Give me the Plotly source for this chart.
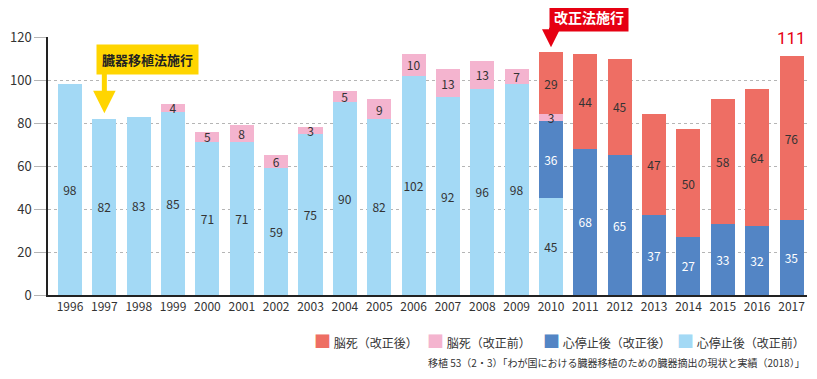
import plotly.graph_objects as go

years = [str(y) for y in range(1996, 2018)]

# 心停止後（改正前） light blue
cardiac_before = [98, 82, 83, 85, 71, 71, 59, 75, 90, 82, 102, 92, 96, 98, 45,
                  None, None, None, None, None, None, None]
# 心停止後（改正後） dark blue
cardiac_after = [None] * 14 + [36, 68, 65, 37, 27, 33, 32, 35]
# 脳死（改正前） pink
brain_before = [None, None, None, 4, 5, 8, 6, 3, 5, 9, 10, 13, 13, 7, 3,
                None, None, None, None, None, None, None]
# 脳死（改正後） red
brain_after = [None] * 14 + [29, 44, 45, 47, 50, 58, 64, 76]

y_ticks = [0, 20, 40, 60, 80, 100, 120]

FONT = "Noto Sans CJK JP"

series = [
    ("心停止後（改正前）", cardiac_before, "#A3D9F5", "#333333"),
    ("心停止後（改正後）", cardiac_after, "#5385C5", "#ffffff"),
    ("脳死（改正前）", brain_before, "#F4B4CF", "#333333"),
    ("脳死（改正後）", brain_after, "#EE6E64", "#333333"),
]

fig = go.Figure()
for name, vals, color, tcolor in series:
    fig.add_trace(go.Bar(
        x=years, y=vals, name=name,
        marker=dict(color=color, line=dict(width=0)),
        width=0.7,
        text=[("" if v is None else str(v)) for v in vals],
        textposition="inside", insidetextanchor="middle", textangle=0,
        textfont=dict(size=12, color=tcolor, family=FONT),
        constraintext="none", cliponaxis=False,
        hoverinfo="skip", showlegend=False,
    ))

# legend (drawn as text, order as in reference)
legend_x = [0.348, 0.497, 0.650, 0.826]
for (name, vals, color, tcolor), lx in zip(list(reversed(series)), legend_x):
    fig.add_annotation(xref="paper", yref="paper", x=lx, y=-0.178, xanchor="left", yanchor="middle",
                       showarrow=False,
                       text=f'<span style="color:{color};font-size:17px">■</span> {name}',
                       font=dict(size=12, color="#333333", family=FONT))

# total label for 2017
idx_last = len(years) - 1
total_2017 = sum(v for v in (cardiac_after[-1], brain_after[-1]) if v)
fig.add_annotation(x=idx_last, y=total_2017, text=str(total_2017),
                   showarrow=False, yanchor="bottom", yshift=6,
                   font=dict(size=17, color="#E60012", family="Roboto"))

# 臓器移植法施行 box + arrow
fig.add_annotation(x=2.26, y=109.5, text="<b>臓器移植法施行</b>", showarrow=False,
                   bgcolor="#FFD500", borderpad=5, xanchor="center", yanchor="middle",
                   font=dict(size=13, color="#222222", family=FONT))
fig.add_annotation(x=1, y=84.5, text="", showarrow=True, axref="pixel", ayref="pixel",
                   ax=0, ay=-42, arrowhead=2, arrowsize=0.9, arrowwidth=5, arrowcolor="#FFD500")

# 改正法施行 box + arrow
fig.add_annotation(x=15.1, xref="x", yref="paper", y=1.0756, text="<b>改正法施行</b>", showarrow=False,
                   bgcolor="#E60012", borderpad=4, xanchor="center", yanchor="middle",
                   font=dict(size=14, color="#ffffff", family=FONT))
fig.add_annotation(x=14, y=115.2, text="", showarrow=True, axref="pixel", ayref="pixel",
                   ax=0, ay=-21, arrowhead=2, arrowsize=0.9, arrowwidth=4, arrowcolor="#E60012")

# source
fig.add_annotation(xref="paper", yref="paper", x=1.0, y=-0.26, xanchor="right", yanchor="middle",
                   text="移植 53（2・3）「わが国における臓器移植のための臓器摘出の現状と実績（2018）」",
                   showarrow=False, font=dict(size=10, color="#333333", family=FONT))

fig.update_layout(
    barmode="stack",
    width=801, height=363,
    margin=dict(l=40, r=2, t=29, b=76),
    paper_bgcolor="white", plot_bgcolor="white",
    font=dict(family=FONT, color="#333333"),
    showlegend=False,
    uniformtext=dict(minsize=12, mode="show"),
)
fig.update_xaxes(type="category", range=[-0.64, 21.45], showgrid=False,
                 showline=True, linecolor="#222222", linewidth=2,
                 ticks="", tickfont=dict(size=12, color="#333333", family=FONT))
fig.update_yaxes(range=[0, 120], tickvals=y_ticks, showgrid=True, gridcolor="#b5b5b5",
                 griddash="dot", gridwidth=1, zeroline=False,
                 showline=True, linecolor="#222222", linewidth=1.5,
                 ticks="outside", ticklen=12, tickcolor="#b5b5b5",
                 tickfont=dict(size=13, color="#333333", family=FONT))

fig.write_html("out.html")
